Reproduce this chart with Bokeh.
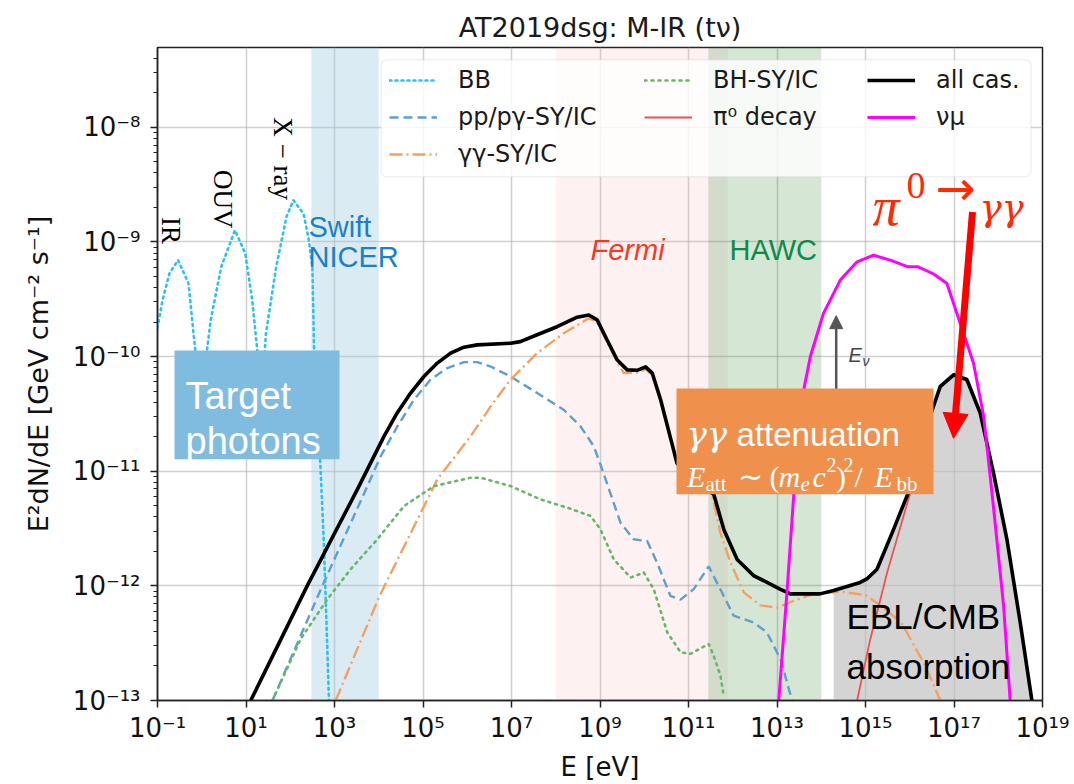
import math
from bokeh.plotting import figure
from bokeh.models import (FixedTicker, CustomJSTickFormatter, Legend, LegendItem,
                          BoxAnnotation, Label, Arrow, NormalHead, Range1d)
from bokeh.embed import file_html
from bokeh.resources import INLINE

# ---------------- data (log10 E [eV], log10 E^2 dN/dE [GeV cm^-2 s^-1]) -------------
bb_logE = [-1.0, -0.885, -0.73, -0.535, -0.30, -0.185, -0.03, 0.204, 0.44, 0.75, 0.983,
           1.14, 1.254, 1.35, 1.45, 1.683, 1.915, 2.071, 2.30, 2.42, 2.50, 2.537, 2.688,
           2.762, 2.875]
bb_logF = [-9.75, -9.507, -9.275, -9.159, -9.36, -9.8, -10.4, -9.68, -9.217, -8.898, -9.1,
           -9.507, -9.94, -10.4, -9.80, -9.217, -8.78, -8.637, -8.753, -8.985, -9.217,
           -9.913, -11.0, -11.652, -13.0]

pp_logE = [1.597, 2.726, 3.743, 4.043, 4.42, 4.795, 5.172, 5.549, 5.924, 6.227, 6.53, 6.98,
           7.58, 8.18, 8.56, 8.86, 9.05, 9.463, 9.76, 10.066, 10.29, 10.59, 10.82, 11.118,
           11.457, 11.72, 12.02, 12.47, 12.77, 13.08, 13.34]
pp_logF = [-13.0, -12.0, -11.13, -10.87, -10.61, -10.377, -10.2, -10.10, -10.049, -10.049,
           -10.087, -10.174, -10.318, -10.464, -10.609, -10.783, -10.985, -11.449, -11.594,
           -11.609, -11.797, -12.087, -12.12, -12.029, -11.83, -12.03, -12.26, -12.32,
           -12.405, -12.64, -13.0]

gg_logE = [3.027, 4.016, 5.323, 6.075, 6.53, 6.98, 7.58, 8.18, 8.747, 8.935, 9.16, 9.39,
           9.54, 9.84, 10.03, 10.18, 10.37, 10.6, 10.74, 11.1, 11.53, 11.72, 11.95, 12.25,
           12.62, 13.0, 13.38, 13.83, 14.43, 15.0, 15.335, 15.81, 16.35, 16.69]
gg_logF = [-13.0, -12.09, -11.072, -10.696, -10.435, -10.2, -9.97, -9.797, -9.666, -9.70,
           -9.87, -10.05, -10.144, -10.14, -10.11, -10.16, -10.39, -10.73, -10.94, -11.09,
           -11.2, -11.536, -11.797, -12.057, -12.17, -12.19, -12.13, -12.07, -12.05, -12.08,
           -12.17, -12.32, -12.696, -13.0]

bh_logE = [1.597, 2.236, 2.84, 3.365, 3.968, 4.57, 5.247, 6.075, 6.30, 6.98, 7.656, 8.26,
           8.786, 9.01, 9.31, 9.69, 9.99, 10.215, 10.52, 10.82, 11.04, 11.457, 11.57, 11.72,
           11.80]
bh_logF = [-13.0, -12.463, -12.116, -11.855, -11.594, -11.304, -11.13, -11.057, -11.057,
           -11.13, -11.246, -11.318, -11.39, -11.507, -11.768, -11.927, -11.884, -12.03,
           -12.405, -12.579, -12.594, -12.507, -12.61, -12.78, -12.97]

pi_logE = [14.81, 15.11, 15.49, 15.86, 16.087, 16.46, 16.69, 16.99, 17.29, 17.59, 17.89,
           18.196, 18.496, 18.76]
pi_logF = [-13.0, -12.463, -11.884, -11.39, -11.09, -10.53, -10.27, -10.17, -10.21, -10.5,
           -11.02, -11.6, -12.33, -13.0]

all_logE = [1.107, 2.383, 3.517, 3.817, 4.118, 4.42, 4.72, 5.02, 5.323, 5.624, 5.924, 6.227,
            6.98, 7.2, 7.58, 8.03, 8.485, 8.747, 8.935, 9.16, 9.39, 9.614, 9.84, 10.03,
            10.18, 10.37, 10.6, 10.74, 11.1, 11.57, 11.80, 12.10, 12.47, 13.08, 13.30,
            13.97, 14.28, 14.88, 15.03, 15.26, 15.635, 16.087, 16.46, 16.69, 16.99, 17.29,
            17.59, 17.89, 18.196, 18.496, 18.76]
all_logF = [-13.0, -12.0, -11.159, -10.927, -10.696, -10.49, -10.318, -10.174, -10.057,
            -9.97, -9.918, -9.898, -9.884, -9.87, -9.81, -9.74, -9.657, -9.637, -9.68,
            -9.855, -10.03, -10.116, -10.12, -10.09, -10.144, -10.377, -10.72, -10.93,
            -11.08, -11.2, -11.51, -11.77, -11.91, -12.03, -12.07, -12.07, -12.04, -11.97,
            -11.94, -11.855, -11.507, -11.072, -10.52, -10.26, -10.159, -10.2, -10.49,
            -11.01, -11.594, -12.318, -13.0]

nu_logE = [13.04, 13.23, 13.38, 13.53, 13.754, 14.05, 14.43, 14.81, 15.18, 15.56, 15.96,
           16.19, 16.54, 16.84, 17.14, 17.44, 17.67, 17.89, 18.12, 18.27]
nu_logF = [-13.0, -12.03, -11.2, -10.435, -10.0, -9.623, -9.333, -9.174, -9.116, -9.159,
           -9.217, -9.217, -9.28, -9.362, -9.71, -10.057, -10.52, -11.304, -12.17, -13.0]

# instrument bands [eV]
band_names = ["Swift/NICER", "Fermi", "HAWC"]
band_lo = [3e2, 1e8, 2.8e11]
band_hi = [1e4, 7.7e11, 1e14]
band_colors = ["#9ecae1", "#f4a0a0", "#3a8a3a"]
band_alpha = [0.38, 0.15, 0.21]
ebl_start_logE = 14.28

x_ticks = [10.0 ** k for k in range(-1, 20, 2)]
y_ticks = [10.0 ** k for k in range(-13, -7)]


def tolin(v):
    return [10.0 ** a for a in v]


# ---------------- figure geometry ----------------
W, H = 1074, 784
FL, FR, FT, FB = 157, 1042, 47, 702
XLO, XHI = 1e-1, 1e19
YLO = 1e-13
LOGTOP = -13 + (FB - FT) / 115.0
YHI = 10 ** LOGTOP


def X(px):
    return 10 ** (-1 + 20.0 * (px - FL) / (FR - FL))


def Y(py):
    return 10 ** (LOGTOP - (py - FT) * (LOGTOP + 13) / (FB - FT))


p = figure(width=W, height=H, x_axis_type="log", y_axis_type="log",
           x_range=Range1d(XLO, XHI), y_range=Range1d(YLO, YHI),
           output_backend="svg", toolbar_location=None,
           min_border_left=FL, min_border_right=W - FR,
           min_border_top=FT, min_border_bottom=H - FB)
p.background_fill_color = "white"
p.border_fill_color = "white"
p.outline_line_color = "#222222"
p.outline_line_width = 1.5

p.title.text = "AT2019dsg: M-IR (tν)"
p.title.align = "center"
p.title.text_font = "DejaVu Sans"
p.title.text_font_size = "27px"
p.title.text_font_style = "normal"
p.title.text_color = "#1a1a1a"

# ---------------- axes ----------------
xt = FixedTicker(ticks=x_ticks, minor_ticks=[])
ymin = [m * 10.0 ** k for k in range(-13, -7) for m in range(2, 10) if m * 10.0 ** k < YHI]
yt = FixedTicker(ticks=y_ticks, minor_ticks=ymin)
fmt_code = """
const e = Math.round(Math.log10(tick));
const m = {"-":"\\u207b","0":"\\u2070","1":"\\u00b9","2":"\\u00b2","3":"\\u00b3","4":"\\u2074",
           "5":"\\u2075","6":"\\u2076","7":"\\u2077","8":"\\u2078","9":"\\u2079"};
return "10" + String(e).split("").map(c => m[c]).join("");
"""
for ax, t in ((p.xaxis[0], xt), (p.yaxis[0], yt)):
    ax.ticker = t
    ax.formatter = CustomJSTickFormatter(code=fmt_code)
    ax.major_label_text_font = "DejaVu Sans"
    ax.major_label_text_font_size = "26px"
    ax.major_label_text_color = "#111111"
    ax.axis_line_width = 1.5
    ax.axis_line_color = "#222222"
    ax.major_tick_line_width = 1.5
    ax.major_tick_line_color = "#222222"
    ax.minor_tick_line_width = 1.2
    ax.minor_tick_line_color = "#222222"
    ax.major_tick_out = 7
    ax.major_tick_in = 0
    ax.minor_tick_out = 4
    ax.minor_tick_in = 0
    ax.axis_label_text_font = "DejaVu Sans"
    ax.axis_label_text_font_size = "26px"
    ax.axis_label_text_font_style = "normal"
    ax.axis_label_text_color = "#111111"

p.xaxis.axis_label = "E [eV]"
p.yaxis.axis_label = "E²dN/dE [GeV cm⁻² s⁻¹]"
p.yaxis.axis_label_text_font_size = "27px"
p.xaxis.major_label_standoff = 5
p.xaxis.axis_label_standoff = 6
p.yaxis.major_label_standoff = 10
p.yaxis.axis_label_standoff = 16

p.xgrid.ticker = xt
p.ygrid.ticker = yt
for g in (p.xgrid[0], p.ygrid[0]):
    g.grid_line_color = "#b0b0b0"
    g.grid_line_alpha = 0.6
    g.grid_line_width = 1.5

# ---------------- bands ----------------
p.quad(left=band_lo, right=band_hi, bottom=[YLO] * 3, top=[YHI] * 3,
       fill_color=band_colors, fill_alpha=band_alpha, line_alpha=0)

# EBL/CMB grey region under all-cascade curve
ebl_E = [e for e in all_logE if e >= ebl_start_logE]
ebl_F = [f for e, f in zip(all_logE, all_logF) if e >= ebl_start_logE]
p.varea(x=tolin(ebl_E), y1=[YLO] * len(ebl_E), y2=tolin(ebl_F),
        fill_color="#bdbdbd", fill_alpha=0.65)

# ---------------- curves ----------------
r_bb = p.line(tolin(bb_logE), tolin(bb_logF), line_color="#2ec0f0", line_width=2.6,
              line_dash="2 4", line_cap="round")
r_pp = p.line(tolin(pp_logE), tolin(pp_logF), line_color="#5f9fcf", line_width=2.4,
              line_dash="9 5")
r_gg = p.line(tolin(gg_logE), tolin(gg_logF), line_color="#f5a062", line_width=2.4,
              line_dash="13 4 2 4")
r_bh = p.line(tolin(bh_logE), tolin(bh_logF), line_color="#66b866", line_width=2.6,
              line_dash="2 5", line_cap="round")
r_pi = p.line(tolin(pi_logE), tolin(pi_logF), line_color="#e85454", line_width=1.8)
r_all = p.line(tolin(all_logE), tolin(all_logF), line_color="black", line_width=3.6,
               line_join="round")
r_nu = p.line(tolin(nu_logE), tolin(nu_logF), line_color="#ff00ff", line_width=3.0,
              line_join="round")

# ---------------- annotations ----------------
# E_nu arrow (behind the orange box)
p.add_layout(Arrow(x_start=X(835.7), y_start=Y(430), x_end=X(835.7), y_end=Y(316),
                   line_color="#555555", line_width=2.5,
                   end=NormalHead(size=13, fill_color="#555555", line_color="#555555")))

p.add_layout(BoxAnnotation(left=X(174), right=X(339), top=Y(351), bottom=Y(460),
                           fill_color="#80bce0", fill_alpha=1.0, line_color=None))
p.add_layout(BoxAnnotation(left=X(676), right=X(933), top=Y(389), bottom=Y(495),
                           fill_color="#ef914c", fill_alpha=1.0, line_color=None))

# legend frame
p.add_layout(BoxAnnotation(left=X(380.5), right=X(1030.5), top=Y(59.3), bottom=Y(176.7),
                           fill_color="white", fill_alpha=0.8, line_color="#cccccc",
                           line_width=1.5, border_radius=6))


def make_legend(items, vx, vy):
    lg = Legend(items=[LegendItem(label=t, renderers=[r]) for t, r in items],
                location=(vx, vy), orientation="vertical", padding=0, margin=0,
                spacing=9, glyph_width=48, glyph_height=28, label_height=28,
                label_standoff=21, label_text_font="DejaVu Sans",
                label_text_font_size="24px", label_text_color="#1a1a1a",
                border_line_alpha=0, background_fill_alpha=0)
    p.add_layout(lg, "center")


make_legend([("BB", r_bb), ("pp/pγ-SY/IC", r_pp), ("γγ-SY/IC", r_gg)], 389 - FL, FB - 170)
make_legend([("BH-SY/IC", r_bh), ("π⁰ decay", r_pi)], 644 - FL, FB - 133)
make_legend([("all cas.", r_all), ("νμ", r_nu)], 867 - FL, FB - 133)


def lab(text, px, py, size, font="Liberation Sans", style="normal", color="black",
        align="left", baseline="alphabetic", angle=0.0):
    p.add_layout(Label(x=X(px), y=Y(py), text=text, text_font=font,
                       text_font_size=f"{size}px", text_font_style=style,
                       text_color=color, text_align=align, text_baseline=baseline,
                       angle=angle))


# target photons
lab("Target", 185, 397, 38, color="white")
lab("photons", 185, 442, 38, color="white")

# gamma-gamma attenuation box
lab("γγ", 686, 435, 34, font="DejaVu Serif", style="italic", color="white")
lab("attenuation", 736, 435, 33, color="white")
pieces = [("E", 686.5, 477, 30, "italic"), ("att", 705, 485, 21, "normal"),
          ("∼", 737, 477, 30, "normal"), ("(", 769, 477, 30, "normal"),
          ("m", 778, 477, 30, "italic"), ("e", 800, 485, 21, "italic"),
          ("c", 812, 477, 30, "italic"), ("2", 826, 466, 20, "normal"),
          (")", 835.5, 477, 30, "normal"), ("2", 843, 466, 20, "normal"),
          ("/", 854, 477, 30, "normal"), ("E", 874, 477, 30, "italic"),
          ("bb", 896, 485, 21, "normal")]
for t, px, py, s, st in pieces:
    lab(t, px, py, s, font="Liberation Serif", style=st, color="white")

# instrument labels
lab("Swift", 308, 227, 29, color="#1a80c8")
lab("NICER", 308, 257, 29, color="#1a80c8")
lab("Fermi", 590, 250, 29, style="italic", color="#f23a24")
lab("HAWC", 729, 250, 29, color="#0b8c48")

# EBL/CMB absorption
lab("EBL/CMB", 846, 618, 35)
lab("absorption", 846, 668, 35)

# E_nu label
lab("E", 848, 355, 20, style="italic", color="#444444")
lab("ν", 862, 361, 14, style="italic", color="#444444")

# BB component labels (rotated)
lab("IR", 170.5, 217, 27, font="Liberation Serif", angle=-math.pi / 2)
lab("OUV", 222, 170, 27, font="Liberation Serif", angle=-math.pi / 2)
lab("X − ray", 282, 117, 27, font="Liberation Serif", angle=-math.pi / 2)

# pi0 -> gamma gamma (kept inside the frame, which clips annotations)
lab("π", 872, 207, 54, font="Liberation Serif", style="italic", color="#ff2a00")
lab("0", 906, 185, 38, font="Liberation Serif", color="#ff2a00")
lab("→", 935, 188, 48, font="DejaVu Sans", color="#ff2a00")
lab("γγ", 979, 207, 37, font="DejaVu Serif", style="italic", color="#ff2a00")

p.add_layout(Arrow(x_start=X(972), y_start=Y(212), x_end=X(953), y_end=Y(439),
                   line_color="#ff0000", line_width=7,
                   end=NormalHead(size=25, fill_color="#ff0000", line_color="#ff0000",
                                  line_width=1)))

open("out.html", "w").write(file_html(p, INLINE))
